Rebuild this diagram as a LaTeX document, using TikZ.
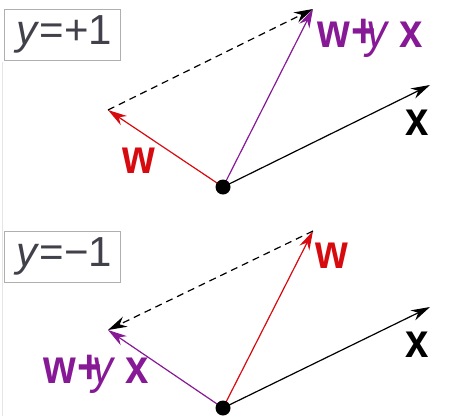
\documentclass[tikz,border=0pt]{standalone}
\usepackage{fontspec}
\usepackage{graphicx}
\setmainfont{Liberation Sans}
\usetikzlibrary{arrows.meta}
\definecolor{vred}{RGB}{215,10,15}
\definecolor{vpurple}{RGB}{135,25,150}
\definecolor{boxtext}{RGB}{65,65,75}
\definecolor{boxline}{RGB}{175,175,175}
\tikzset{
  vec/.style={line width=1.2pt,-{Stealth[length=19pt,width=11pt,inset=6pt]}},
  dashvec/.style={vec,dashed,dash pattern=on 7pt off 5pt},
  dot/.style={circle,fill=black,inner sep=0pt,minimum size=15pt},
  lbl/.style={font=\fontsize{42}{42}\selectfont\bfseries,inner sep=0pt,anchor=base west},
  ybox/.style={draw=boxline,line width=0.8pt,text=boxtext,font=\fontsize{42}{42}\selectfont,
    minimum width=116pt,minimum height=51pt,inner sep=0pt,anchor=north west}
}
\newcommand{\tall}[1]{\scalebox{1}[1.15]{#1}}
\newcommand{\wyx}{\tall{w\kern0.03em+\kern-0.22em{\mdseries\itshape y}\ x}}
\begin{document}
\begin{tikzpicture}[x=1pt,y=-1pt]
\useasboundingbox (0,0) rectangle (454,416);
\draw[gray!20,line width=1pt] (2.5,62) -- (2.5,416);
% top panel
\node[ybox] (b1) at (4,9) {\hspace*{4pt}\textit{y}=+1};
\coordinate (o1) at (223,187);
\coordinate (x1) at (430,85);
\coordinate (w1) at (108,110);
\coordinate (s1) at (313,9);
\draw[vec,black] (o1) -- (x1);
\draw[vec,vred] (o1) -- (w1);
\draw[vec,vpurple] (o1) -- (s1);
\draw[dashvec,black] (w1) -- (s1);
\node[dot] (d1) at (o1) {};
\node[lbl,text=vred] (lw1) at (122,173) {\tall{w}};
\node[lbl,text=black] (lx1) at (405,135) {\tall{x}};
\node[lbl,text=vpurple] (ls1) at (317,47) {\wyx};
% bottom panel
\node[ybox] (b2) at (4,231) {\hspace*{4pt}\textit{y}=−1};
\coordinate (o2) at (223,408);
\coordinate (x2) at (430,307);
\coordinate (w2) at (313,231);
\coordinate (s2) at (108,330);
\draw[vec,black] (o2) -- (x2);
\draw[vec,vred] (o2) -- (w2);
\draw[vec,vpurple] (o2) -- (s2);
\draw[dashvec,black] (w2) -- (s2);
\node[dot] (d2) at (o2) {};
\node[lbl,text=vred] (lw2) at (315,268) {\tall{w}};
\node[lbl,text=black] (lx2) at (405,357) {\tall{x}};
\node[lbl,text=vpurple] (ls2) at (43,383) {\wyx};
\end{tikzpicture}
\end{document}
